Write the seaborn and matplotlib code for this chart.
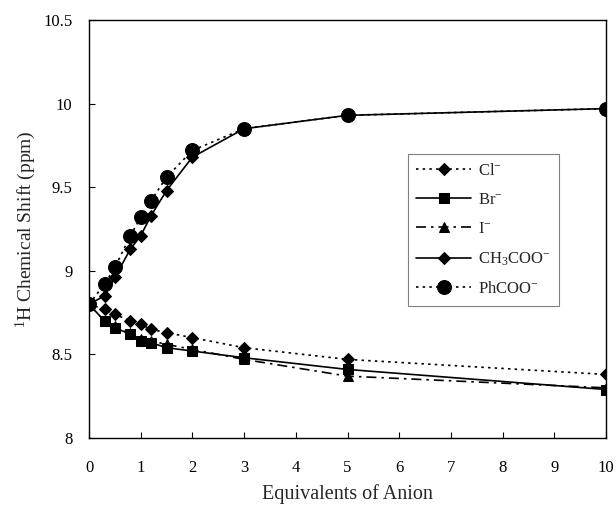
import matplotlib
matplotlib.use("Agg")
import matplotlib.pyplot as plt
import seaborn as sns

sns.set_style("ticks")
plt.rcParams['font.family'] = ['Liberation Serif', 'DejaVu Serif']
plt.rcParams['mathtext.fontset'] = 'custom'
plt.rcParams['mathtext.rm'] = 'Liberation Serif'
plt.rcParams['mathtext.it'] = 'Liberation Serif:italic'

# Data
equiv = [0, 0.3, 0.5, 0.8, 1.0, 1.2, 1.5, 2, 3, 5, 10]
shift_cl = [8.80, 8.77, 8.74, 8.70, 8.68, 8.65, 8.63, 8.60, 8.54, 8.47, 8.38]
shift_br = [8.80, 8.70, 8.66, 8.62, 8.58, 8.57, 8.54, 8.52, 8.48, 8.41, 8.29]
shift_i = [8.80, 8.70, 8.67, 8.63, 8.59, 8.58, 8.56, 8.53, 8.47, 8.37, 8.30]
shift_ac = [8.80, 8.85, 8.96, 9.13, 9.21, 9.33, 9.48, 9.68, 9.85, 9.93, 9.97]
shift_ph = [8.80, 8.92, 9.02, 9.21, 9.32, 9.42, 9.56, 9.72, 9.85, 9.93, 9.97]

labels = ['Cl$^{-}$', 'Br$^{-}$', 'I$^{-}$', 'CH$_3$COO$^{-}$', 'PhCOO$^{-}$']

fig = plt.figure(figsize=(6.16, 5.08), dpi=100)
ax = fig.add_axes([0.1445, 0.1378, 0.8393, 0.8228])

# series: values, marker, linestyle, markersize
series = [
    (shift_cl, 'D', (0, (1.5, 2.5)), 6),
    (shift_br, 's', '-', 7),
    (shift_i, '^', (0, (6, 3, 1.5, 3)), 7),
    (shift_ac, 'D', '-', 6),
    (shift_ph, 'o', (0, (1.5, 2.5)), 10),
]
for (vals, mk, ls, ms), lab in zip(series, labels):
    sns.lineplot(x=equiv, y=vals, ax=ax, color='black', marker=mk, linestyle=ls,
                 markersize=ms, markeredgecolor='black', linewidth=1.2, label=lab,
                 sort=False)

ax.set_xlim(0, 10)
ax.set_ylim(8, 10.5)
ax.set_xticks(range(0, 11))
ax.set_yticks([8, 8.5, 9, 9.5, 10, 10.5])
ax.set_yticklabels(['8', '8.5', '9', '9.5', '10', '10.5'])
ax.tick_params(direction='in', length=4, labelsize=12, colors='black')
ax.tick_params(axis='x', pad=16)
ax.tick_params(axis='y', pad=12)
for s in ax.spines.values():
    s.set_color('black')
    s.set_linewidth(1.0)

ax.set_xlabel('Equivalents of Anion', fontsize=14.5, labelpad=6)
ax.set_ylabel('$^{1}$H Chemical Shift (ppm)', fontsize=14, labelpad=4)

leg = ax.legend(loc='upper left', bbox_to_anchor=(0.617, 0.679), borderaxespad=0,
                fontsize=12, handlelength=3.3, handletextpad=0.4, labelspacing=0.8,
                fancybox=False, framealpha=1, edgecolor='gray', borderpad=0.5)
leg.get_frame().set_linewidth(0.8)

fig.savefig('out.png', dpi=100)
